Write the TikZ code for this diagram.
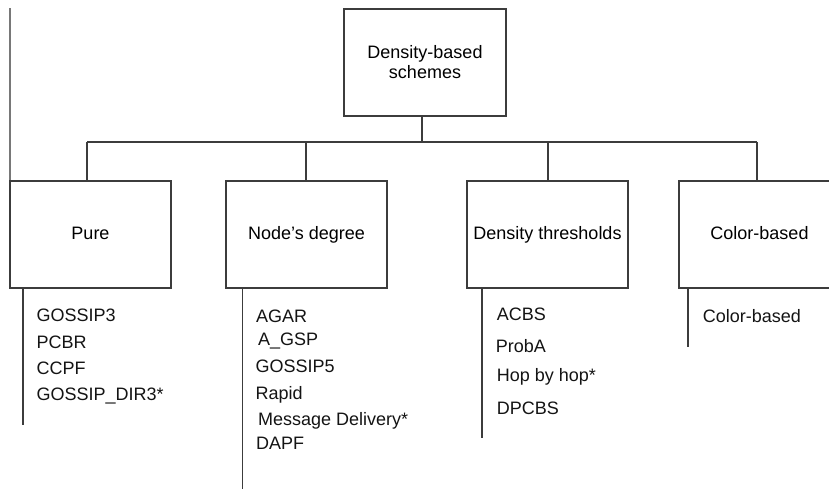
\documentclass[tikz,border=0pt]{standalone}
\usepackage{fontspec}
\setmainfont{Liberation Sans}
\begin{document}
\begin{tikzpicture}[x=1pt,y=-1pt,
  conn/.style={draw={rgb,255:red,60;green,60;blue,60},line width=1.5pt},
  leftline/.style={draw={rgb,255:red,120;green,120;blue,120},line width=2pt},
  box/.style={draw={rgb,255:red,60;green,60;blue,60},line width=1.5pt,rectangle,
    minimum width=161pt,minimum height=107pt,inner sep=0pt,
    font=\fontsize{18}{20}\selectfont,text height=12.9pt,text depth=3.8pt},
  topbox/.style={draw={rgb,255:red,60;green,60;blue,60},line width=1.5pt,rectangle,
    minimum width=162pt,minimum height=107pt,inner sep=0pt,align=center,
    font=\fontsize{18}{20}\selectfont},
  item/.style={anchor=base west,inner sep=0pt,font=\fontsize{18}{20}\selectfont,text={rgb,255:red,20;green,20;blue,20}}
]
\useasboundingbox (0,0) rectangle (829,488);
\clip (0,0) rectangle (829,488);
\fill[white] (0,0) rectangle (829,488);

% boxes
\node[topbox] (top) at (425,62.5) {Density-based\\schemes};
\node[box] (pure) at (90.5,234.5) {Pure};
\node[box] (deg) at (306.5,234.5) {Node’s degree};
\node[box] (thr) at (547.5,234.5) {Density thresholds};
\node[box] (col) at (759.5,234.5) {Color-based};

% tree connectors
\coordinate (j0) at (422,142);
\coordinate (j1) at (87,142);
\coordinate (j2) at (306,142);
\coordinate (j3) at (548,142);
\coordinate (j4) at (757,142);
\draw[conn] (top.south -| j0) -- (j0);
\draw[conn] (j1) -- (j4);
\draw[conn] (j1) -- (pure.north -| j1);
\draw[conn] (j2) -- (deg.north -| j2);
\draw[conn] (j3) -- (thr.north -| j3);
\draw[conn] (j4) -- (col.north -| j4);

% far left line
\coordinate (ltop) at (9.6,8);
\draw[leftline] (ltop) -- (ltop |- pure.north);

% list lines
\coordinate (pe) at (23,425);
\coordinate (de) at (242.5,490);
\coordinate (te) at (482,438);
\coordinate (ce) at (688,347);
\draw[conn] (pure.south -| pe) -- (pe);
\draw[conn] (deg.south -| de) -- (de);
\draw[conn] (thr.south -| te) -- (te);
\draw[conn] (col.south -| ce) -- (ce);

% Pure items
\node[item] (p1) at (36.5,321.7) {GOSSIP3};
\node[item] (p2) at (36.5,348.3) {PCBR};
\node[item] (p3) at (36.5,374.3) {CCPF};
\node[item] (p4) at (36.5,400) {GOSSIP\_DIR3*};

% Node's degree items
\node[item] (d1) at (256,322.5) {AGAR};
\node[item] (d2) at (258,345.8) {A\_GSP};
\node[item] (d3) at (255.5,372.5) {GOSSIP5};
\node[item] (d4) at (255.5,399) {Rapid};
\node[item] (d5) at (258,425.8) {Message Delivery*};
\node[item] (d6) at (256,449.8) {DAPF};

% Density thresholds items
\node[item] (t1) at (496.7,320.5) {ACBS};
\node[item] (t2) at (495.7,352.5) {ProbA};
\node[item] (t3) at (496.7,381.5) {Hop by hop*};
\node[item] (t4) at (496.7,414.8) {DPCBS};

% Color-based item
\node[item] (c1) at (702.7,322.5) {Color-based};
\end{tikzpicture}
\end{document}
